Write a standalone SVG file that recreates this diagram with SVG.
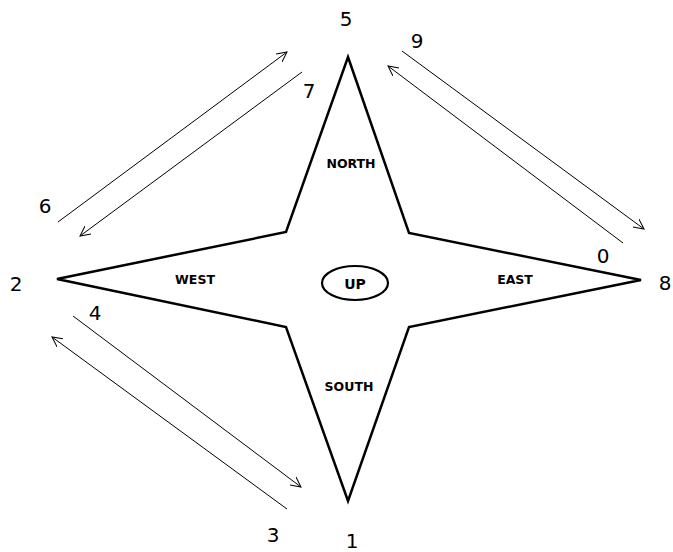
<svg xmlns="http://www.w3.org/2000/svg" width="673" height="552" viewBox="0 0 673 552">
<style>
.num{font-family:"DejaVu Sans",Verdana,sans-serif;font-size:20px;fill:#000;text-anchor:middle}
.lbl{font-family:"DejaVu Sans",Verdana,sans-serif;font-size:12.5px;font-weight:bold;fill:#000;text-anchor:middle}
.conn{stroke:#000;stroke-width:1;fill:none}
.star{stroke:#000;stroke-width:2.5;fill:#fff;stroke-linejoin:miter}
</style>
<defs>
<marker id="arr" markerWidth="12" markerHeight="12" refX="10" refY="5" orient="auto" markerUnits="userSpaceOnUse" viewBox="0 0 12 10">
<path d="M0,0 L10,5 L0,10" fill="none" stroke="#000" stroke-width="1"/>
</marker>
</defs>
<rect width="673" height="552" fill="#fff"/>
<g id="star">
<polygon class="star" points="348,57 409,233 641,280 409,327 348,501 286,327 57,279 286,232"/>
</g>
<g id="north"><text class="lbl" x="351" y="168">NORTH</text></g>
<g id="south"><text class="lbl" x="349" y="391">SOUTH</text></g>
<g id="west"><text class="lbl" x="195" y="284">WEST</text></g>
<g id="east"><text class="lbl" x="515" y="284">EAST</text></g>
<g id="up">
<ellipse cx="355" cy="283" rx="33" ry="17" fill="#fff" stroke="#000" stroke-width="2.2"/>
<text class="lbl" x="355" y="289" style="font-size:14px">UP</text>
</g>
<g id="connectors">
<line class="conn" x1="58" y1="222" x2="287" y2="52" marker-end="url(#arr)"/>
<line class="conn" x1="302" y1="72" x2="80" y2="236" marker-end="url(#arr)"/>
<line class="conn" x1="402" y1="51" x2="644" y2="229" marker-end="url(#arr)"/>
<line class="conn" x1="623" y1="243" x2="388" y2="66" marker-end="url(#arr)"/>
<line class="conn" x1="73" y1="316" x2="301" y2="487" marker-end="url(#arr)"/>
<line class="conn" x1="287" y1="509" x2="52" y2="337" marker-end="url(#arr)"/>
</g>
<g id="labels">
<text class="num" x="346" y="26">5</text>
<text class="num" x="417" y="48">9</text>
<text class="num" x="309" y="98">7</text>
<text class="num" x="45" y="213">6</text>
<text class="num" x="16" y="291">2</text>
<text class="num" x="95" y="320">4</text>
<text class="num" x="273" y="542">3</text>
<text class="num" x="352" y="548">1</text>
<text class="num" x="603" y="263">0</text>
<text class="num" x="665" y="290">8</text>
</g>
</svg>
